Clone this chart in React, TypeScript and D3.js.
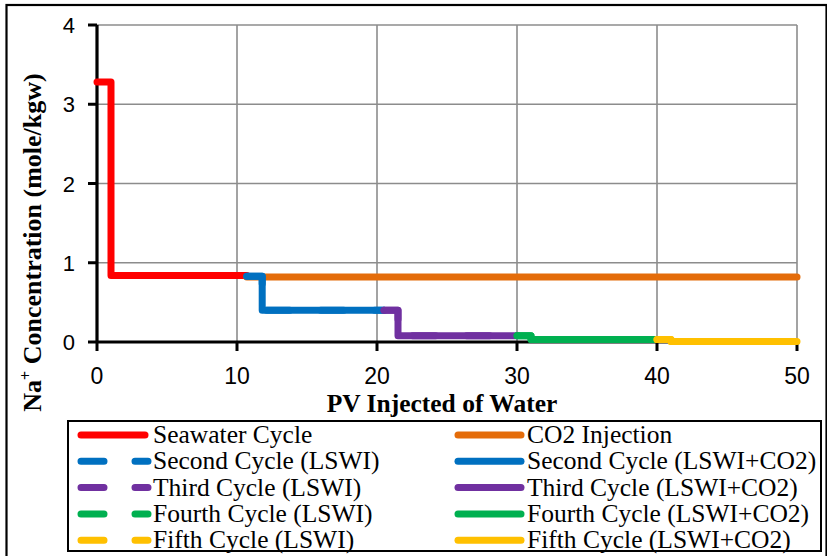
import React from "react";
import * as d3 from "d3";

// Step profiles of Na+ concentration vs. pore volumes injected
const seawaterX = [0, 1, 1, 10.7];
const seawaterY = [3.28, 3.28, 0.84, 0.84];

const co2X = [10.7, 50];
const co2Y = [0.82, 0.82];

const secondX = [10.7, 11.8, 11.8, 20.5];
const secondY = [0.83, 0.83, 0.4, 0.4];

const thirdX = [20.5, 21.5, 21.5, 30];
const thirdY = [0.4, 0.4, 0.08, 0.08];

const fourthX = [30, 31, 31, 40];
const fourthY = [0.08, 0.08, 0.03, 0.03];

const fifthX = [40, 41, 41, 50];
const fifthY = [0.03, 0.03, 0.005, 0.005];

const xTicks = [0, 10, 20, 30, 40, 50];
const yTicks = [0, 1, 2, 3, 4];

const legendLeft = [
  "Seawater Cycle",
  "Second Cycle (LSWI)",
  "Third Cycle (LSWI)",
  "Fourth Cycle (LSWI)",
  "Fifth Cycle (LSWI)",
];
const legendRight = [
  "CO2 Injection",
  "Second Cycle (LSWI+CO2)",
  "Third Cycle (LSWI+CO2)",
  "Fourth Cycle (LSWI+CO2)",
  "Fifth Cycle (LSWI+CO2)",
];
const leftColors = ["#FF0000", "#0070C0", "#7030A0", "#00B050", "#FFC000"];
const rightColors = ["#E46C0A", "#0070C0", "#7030A0", "#00B050", "#FFC000"];

type Series = { xs: number[]; ys: number[]; color: string; dashed: boolean };

const series: Series[] = [
  { xs: seawaterX, ys: seawaterY, color: leftColors[0], dashed: false },
  { xs: co2X, ys: co2Y, color: rightColors[0], dashed: false },
  { xs: secondX, ys: secondY, color: leftColors[1], dashed: true },
  { xs: secondX, ys: secondY, color: rightColors[1], dashed: false },
  { xs: thirdX, ys: thirdY, color: leftColors[2], dashed: true },
  { xs: thirdX, ys: thirdY, color: rightColors[2], dashed: false },
  { xs: fourthX, ys: fourthY, color: leftColors[3], dashed: true },
  { xs: fourthX, ys: fourthY, color: rightColors[3], dashed: false },
  { xs: fifthX, ys: fifthY, color: leftColors[4], dashed: true },
  { xs: fifthX, ys: fifthY, color: rightColors[4], dashed: false },
];

const W = 827;
const H = 556;
const plot = { left: 97, right: 797, top: 25, bottom: 342 };
const LW = 7;
const DASH = "23,31";

export default function App() {
  const x = d3.scaleLinear().domain([0, 50]).range([plot.left, plot.right]);
  const y = d3.scaleLinear().domain([0, 4]).range([plot.bottom, plot.top]);
  const line = d3
    .line<[number, number]>()
    .x((d) => x(d[0]))
    .y((d) => y(d[1]));

  const serif = "'Liberation Serif', 'Times New Roman', serif";
  const sans = "'Liberation Sans', Arial, sans-serif";

  const legTop = 435;
  const legStep = 26.3;

  return (
    <svg
      width={W}
      height={H}
      style={{ position: "absolute", left: 0, top: 0, background: "#fff" }}
    >
      <rect x={0} y={0} width={W} height={H} fill="#fff" />
      {/* outer frame */}
      <rect x={6.5} y={5} width={820} height={600} fill="none" stroke="#000" strokeWidth={2.2} />

      {/* gridlines */}
      {xTicks.slice(1).map((t) => (
        <line key={"gx" + t} x1={x(t)} x2={x(t)} y1={y(4)} y2={y(0)} stroke="#8c8c8c" strokeWidth={1.6} />
      ))}
      {yTicks.slice(1).map((t) => (
        <line key={"gy" + t} x1={x(0)} x2={x(50)} y1={y(t)} y2={y(t)} stroke="#8c8c8c" strokeWidth={1.6} />
      ))}

      {/* axes */}
      <line x1={x(0)} x2={x(0)} y1={y(4)} y2={y(0)} stroke="#000" strokeWidth={3.2} />
      <line x1={x(0)} x2={x(50)} y1={y(0)} y2={y(0)} stroke="#000" strokeWidth={3.2} />
      {yTicks.map((t) => (
        <g key={"yt" + t}>
          <line x1={x(0) - 9} x2={x(0)} y1={y(t)} y2={y(t)} stroke="#000" strokeWidth={3} />
          <text x={75} y={y(t) + 8} textAnchor="end" fontFamily={sans} fontSize={22} fill="#000">
            {t}
          </text>
        </g>
      ))}
      {xTicks.map((t) => (
        <g key={"xt" + t}>
          <line x1={x(t)} x2={x(t)} y1={y(0)} y2={y(0) + 9} stroke="#000" strokeWidth={3} />
          <text x={x(t)} y={384} textAnchor="middle" fontFamily={sans} fontSize={23} fill="#000">
            {t}
          </text>
        </g>
      ))}

      {/* series */}
      {series.map((s, i) => (
        <path
          key={"s" + i}
          d={line(s.xs.map((v, j) => [v, s.ys[j]] as [number, number])) || ""}
          fill="none"
          stroke={s.color}
          strokeWidth={LW}
          strokeLinecap="round"
          strokeLinejoin="round"
          strokeDasharray={s.dashed ? DASH : undefined}
        />
      ))}

      {/* axis titles */}
      <text x={442} y={412} textAnchor="middle" fontFamily={serif} fontWeight="bold" fontSize={25.5} fill="#000">
        PV Injected of Water
      </text>
      <text
        transform={`translate(41, 242.5) rotate(-90)`}
        textAnchor="middle"
        fontFamily={serif}
        fontWeight="bold"
        fontSize={26}
        fill="#000"
      >
        Na
        <tspan dy={-10} fontSize={16}>+</tspan>
        <tspan dy={10}> Concentration (mole/kgw)</tspan>
      </text>

      {/* legend */}
      <rect x={68} y={421} width={753} height={130} fill="#fff" stroke="#000" strokeWidth={2} />
      {legendLeft.map((name, i) => {
        const cy = legTop + i * legStep;
        return (
          <g key={"ll" + i}>
            <line
              x1={81}
              x2={i === 0 ? 145 : 148}
              y1={cy}
              y2={cy}
              stroke={leftColors[i]}
              strokeWidth={LW}
              strokeLinecap="round"
              strokeDasharray={i === 0 ? undefined : DASH}
            />
            <text x={153} y={cy + 8} fontFamily={serif} fontSize={25.5} fill="#000">
              {name}
            </text>
          </g>
        );
      })}
      {legendRight.map((name, i) => {
        const cy = legTop + i * legStep;
        return (
          <g key={"lr" + i}>
            <line x1={458} x2={521} y1={cy} y2={cy} stroke={rightColors[i]} strokeWidth={LW} strokeLinecap="round" />
            <text x={527} y={cy + 8} fontFamily={serif} fontSize={25.5} fill="#000">
              {name}
            </text>
          </g>
        );
      })}
    </svg>
  );
}
